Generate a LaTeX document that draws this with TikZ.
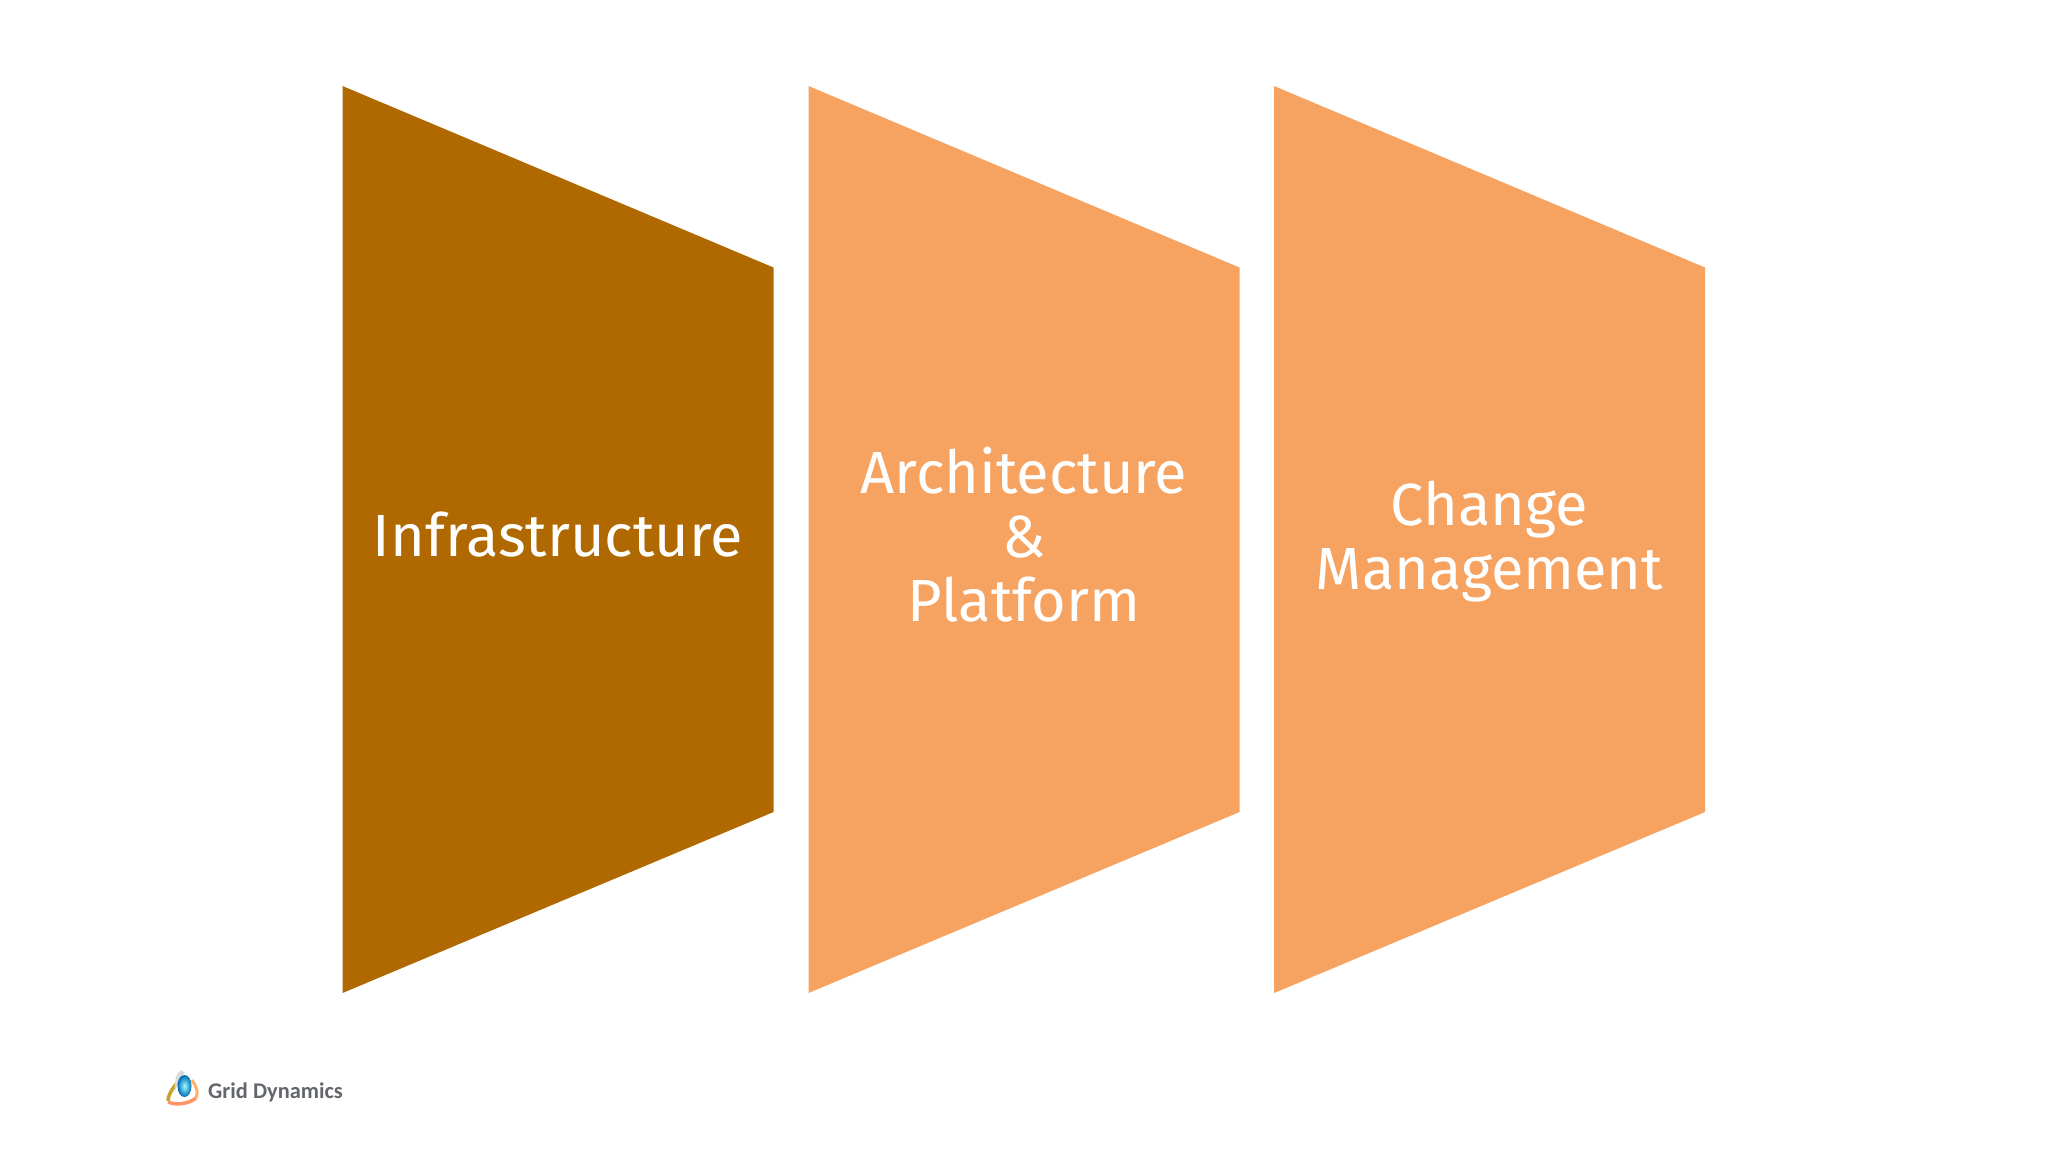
\documentclass[tikz,border=0pt]{standalone}
\usepackage{fontspec}
\setmainfont{Fira Sans}
\newfontfamily\logofont{Carlito}
\definecolor{darkbar}{HTML}{B06800}
\definecolor{lightbar}{HTML}{F6A361}
\definecolor{logotext}{HTML}{63666C}
\tikzset{
  x=1pt,y=-1pt,
  panel/.style={line width=0pt},
  paneltext/.style={text=white,align=center,font=\fontsize{59.5}{64}\selectfont,inner sep=0pt},
}
\begin{document}
\begin{tikzpicture}
\useasboundingbox (0,0) rectangle (2048,1152);
\fill[white] (0,0) rectangle (2048,1152);
\fill[panel,darkbar] (342.5,86) -- (773.5,267.5) -- (773.5,812) -- (342.5,993) -- cycle;
\fill[panel,lightbar] (808.5,86) -- (1239.5,267.5) -- (1239.5,812) -- (808.5,993) -- cycle;
\fill[panel,lightbar] (1274,86) -- (1705,267.5) -- (1705,812) -- (1274,993) -- cycle;
\node[paneltext] (infra) at (558,535) {Infrastructure};
\node[paneltext] (arch) at (1024,535) {Architecture\\\&\\Platform};
\node[paneltext] (change) at (1489.5,542) {Change\\Management};
% logo
\draw[line width=3.5pt,olive!60!orange!80] (183,1077) .. controls (175,1084) and (168,1094) .. (168,1101);
\draw[line width=3.5pt,orange!60!red!60] (168,1102) .. controls (178,1106) and (190,1103) .. (196,1098);
\draw[line width=3pt,orange!60] (196,1098) .. controls (199,1092) and (196,1086) .. (192,1080);
\fill[gray!30] (181,1070) .. controls (176,1073) and (174,1082) .. (175,1092) .. controls (177,1084) and (180,1076) .. (185,1073) -- cycle;
\shade[inner color=cyan!40!white,outer color=blue!40!cyan!70!black] (184.5,1086) ellipse (7 and 11);
\node[inner sep=0pt,anchor=west,text=logotext,font=\logofont\bfseries\fontsize{22.4}{22.4}\selectfont] (logo) at (208,1092) {Grid Dynamics};
\end{tikzpicture}
\end{document}
